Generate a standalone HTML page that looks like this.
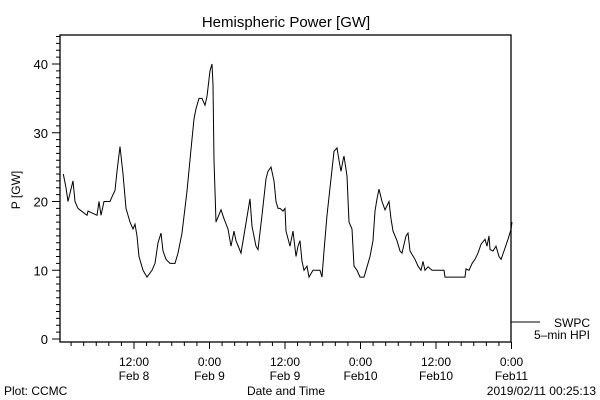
<!DOCTYPE html>
<html><head><meta charset="utf-8"><style>
body{margin:0;background:#fff}
svg{display:block}
text{font-family:"Liberation Sans",sans-serif;fill:#000}
</style></head><body>
<svg id="chart" width="600" height="400" viewBox="0 0 600 400">
<text x="286" y="27" font-size="15" text-anchor="middle">Hemispheric Power [GW]</text>
<text x="0" y="0" font-size="12" text-anchor="middle" transform="translate(20,190) rotate(-90)">P [GW]</text>
<text x="286" y="395" font-size="12" text-anchor="middle">Date and Time</text>
<text x="4" y="395" font-size="12">Plot: CCMC</text>
<text x="596" y="395" font-size="12" text-anchor="end">2019/02/11 00:25:13</text>
<rect x="60" y="35" width="451" height="307" fill="none" stroke="#000" stroke-width="1.3"/>
<line x1="511" y1="322" x2="540" y2="322" stroke="#000"/>
<text x="590" y="327" font-size="12" text-anchor="end">SWPC</text>
<text x="590" y="339" font-size="12" text-anchor="end">5–min HPI</text>
<g id="axes"></g>
<polyline id="series" fill="none" stroke="#000" stroke-width="1"/>
</svg>
<script>
const yTicks=[0,10,20,30,40];
const xTickHours=[12,24,36,48,60,72];
const xTickTimes=["12:00","0:00","12:00","0:00","12:00","0:00"];
const xTickDates=["Feb 8","Feb 9","Feb 9","Feb10","Feb10","Feb11"];
const hours=[0.76,1.19,1.51,2.31,2.62,3.10,4.53,4.69,6.12,6.44,6.75,7.23,8.19,8.66,8.98,9.30,9.78,10.25,10.73,11.36,11.84,12.16,12.48,12.79,13.43,14.07,14.86,15.34,15.81,16.29,16.61,17.09,17.72,18.52,18.99,19.63,20.43,21.06,21.54,21.85,22.33,22.81,23.28,23.60,24.08,24.40,24.56,24.71,25.03,25.83,26.30,26.94,27.42,27.89,28.21,29.01,29.64,30.44,30.75,31.39,31.71,32.34,32.98,33.30,33.78,34.25,34.57,34.89,35.20,35.68,36.00,36.16,36.79,37.27,37.75,38.07,38.38,38.70,39.02,39.49,39.81,40.45,41.56,41.88,42.20,42.67,43.15,43.79,44.26,44.58,44.90,45.22,45.37,45.85,46.17,46.65,46.96,47.44,47.92,48.40,48.55,48.87,49.51,49.98,50.30,50.62,50.94,51.41,51.89,52.53,52.84,53.16,53.80,54.28,54.59,55.23,55.55,55.86,56.66,57.14,57.62,57.93,58.25,58.73,59.36,61.27,61.43,64.61,64.77,65.25,65.73,66.20,66.68,67.16,67.79,68.11,68.43,68.59,69.06,69.54,70.02,70.34,70.81,71.45,71.93,72.08];
const power=[24,22,20,23,20,19,18,18.6,18,20,18,20,20,21,21.6,24.4,28,24,19,17,16,16.7,15,12,10,9,10,11,14,15.4,12.8,11.6,11,11,12.5,15.4,21.5,27.6,32,33.5,35,35,34,35.3,39,40,37,26,17,18.8,17.5,16,13.5,15.7,14.3,12.5,16,20.4,16.4,13.5,13,18,23.3,24.4,25,23,20,19,19,18.6,19,15.7,13.5,15.7,12,13.5,14.3,11.3,10,10.6,9,10,10,9,12.8,18,22,27.3,27.8,26,24.4,26,26.6,23.7,17,16,10.6,10,9,9,9,10,12,14.3,18.6,20.4,21.8,20,18.8,20,17.5,15.7,14.3,12.8,12.5,15,15.4,12.8,11.6,10.6,10,11.3,10,10.5,10,10,9,9,10.2,10,11,11.6,12.5,13.8,14.5,13.5,15,13,12.8,13.5,12,11.6,12.8,14.5,16,17];
const x0=60,x1=511,y0=342;
function sx(h){return 58.5+h*6.2917;}
function sy(v){return 339-v*6.875;}
const ns="http://www.w3.org/2000/svg";
const g=document.getElementById('axes');
function ln(a,b,c,d,name){const l=document.createElementNS(ns,'line');
l.setAttribute('x1',a);l.setAttribute('y1',b);l.setAttribute('x2',c);l.setAttribute('y2',d);
l.setAttribute('stroke','#000');


g.appendChild(l);}
for(let v=0;v<=44;v++){const y=sy(v);if(y<35)break;ln(v%10===0?52:56,y,60,y,'y-tick');}
yTicks.forEach(v=>{const t=document.createElementNS(ns,'text');
t.setAttribute('x',48);t.setAttribute('y',sy(v)+5);t.setAttribute('font-size','13');t.setAttribute('text-anchor','end');


t.textContent=v;g.appendChild(t);});
for(let h=2;h<=72;h+=2){const x=sx(h);if(x>x1+1)break;ln(x,y0,x,y0+(h%12===0?7:4),'x-tick');}
xTickHours.forEach((h,i)=>{const x=sx(h);
const a=document.createElementNS(ns,'text');a.setAttribute('x',x);a.setAttribute('y',366);a.setAttribute('font-size','12');a.setAttribute('text-anchor','middle');


a.textContent=xTickTimes[i];g.appendChild(a);
const b=document.createElementNS(ns,'text');b.setAttribute('x',x);b.setAttribute('y',380);b.setAttribute('font-size','12');b.setAttribute('text-anchor','middle');


b.textContent=xTickDates[i];g.appendChild(b);});
document.getElementById('series').setAttribute('points',hours.map((h,i)=>sx(h).toFixed(1)+','+sy(power[i]).toFixed(1)).join(' '));
</script>
</body></html>
